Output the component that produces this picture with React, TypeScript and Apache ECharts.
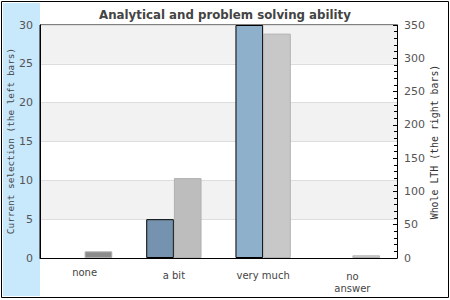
import React, { useEffect, useRef } from "react";
import * as echarts from "echarts";

const categories = ["none", "a bit", "very much", "no\nanswer"];
const labelOffsets = [0, 3, 3, 4];
const currentSelection = [0, 5, 30, 0];
const wholeLTH = [10, 120, 337, 4];
const leftColors = ["#8fb0cb", "#7593ae", "#8fb0cb", "#8fb0cb"];
const rightColors = ["#8c8c8c", "#bdbdbd", "#c8c8c8", "#d0d0d0"];
const leftTicks = { min: 0, max: 30, interval: 5 };
const rightTicks = { min: 0, max: 350, interval: 50 };
const leftName = "Current selection (the left bars)";
const rightName = "Whole LTH (the right bars)";

export default function App() {
  const ref = useRef<HTMLDivElement>(null);
  useEffect(() => {
    if (!ref.current) return;
    const chart = echarts.init(ref.current, undefined, { renderer: "svg" });
    chart.setOption({
      animation: false,
      backgroundColor: "#fff",
      title: {
        text: "Analytical and problem solving ability",
        left: "center",
        top: 4,
        textStyle: { fontFamily: "DejaVu Sans", fontSize: 11.8, fontWeight: "bold", color: "#444" },
      },
      graphic: [
        { type: "rect", z: -10, shape: { x: 3, y: 3, width: 37, height: 293 }, style: { fill: "#c8e8fc" }, silent: true },
        { type: "rect", z: -10, shape: { x: 1.5, y: 1.5, width: 447, height: 296 }, style: { fill: "none", stroke: "#000", lineWidth: 1 }, silent: true },
        {
          type: "text", x: 10, y: 141, rotation: Math.PI / 2, silent: true,
          style: { text: leftName, fontFamily: "DejaVu Sans Mono", fontSize: 9.4, fill: "#444", align: "center", verticalAlign: "middle" },
        },
        {
          type: "text", x: 434, y: 142, rotation: Math.PI / 2, silent: true,
          style: { text: rightName, fontFamily: "DejaVu Sans Mono", fontSize: 9.9, fill: "#333", align: "center", verticalAlign: "middle" },
        },
      ],
      grid: { left: 40, right: 53, top: 25, bottom: 42, show: true, borderColor: "#000", borderWidth: 1, backgroundColor: "transparent" },
      xAxis: {
        type: "category",
        data: categories.map((c, i) => ({ value: c, textStyle: { padding: [labelOffsets[i], 0, 0, 0] } })),
        axisLine: { lineStyle: { color: "#000", width: 1 } },
        axisTick: { show: false },
        axisLabel: { fontFamily: "DejaVu Sans", fontSize: 10, color: "#444", margin: 9, lineHeight: 11.5 },
      },
      yAxis: [
        {
          type: "value",
          ...leftTicks,
          position: "left",
          axisLine: { show: true, lineStyle: { color: "#000" } },
          axisTick: { show: false },
          axisLabel: { fontFamily: "DejaVu Sans", fontSize: 11, color: "#555", margin: 7 },
          splitLine: { show: true, lineStyle: { color: "#dddddd" } },
          splitArea: { show: true, areaStyle: { color: ["#ffffff", "#f2f2f2"] } },
        },
        {
          type: "value",
          ...rightTicks,
          position: "right",
          axisLine: { show: true, lineStyle: { color: "#000" } },
          axisTick: { show: true, inside: true, length: 4, lineStyle: { color: "#000" } },
          minorTick: { show: true, splitNumber: 5, length: 3, lineStyle: { color: "#000" } },
          axisLabel: { fontFamily: "DejaVu Sans", fontSize: 11, color: "#555", margin: 7 },
          splitLine: { show: false },
        },
      ],
      series: [
        {
          type: "bar",
          yAxisIndex: 0,
          barGap: "0%",
          barCategoryGap: "38%",
          data: currentSelection.map((v, i) => ({
            value: v,
            itemStyle: { color: leftColors[i], borderColor: "#000", borderWidth: v > 0 ? 1 : 0 },
          })),
        },
        {
          type: "bar",
          yAxisIndex: 1,
          barGap: "0%",
          barCategoryGap: "38%",
          data: wholeLTH.map((v, i) => ({
            value: v,
            itemStyle: { color: rightColors[i], borderColor: "#b0b0b0", borderWidth: 1 },
          })),
        },
      ],
    });
    return () => chart.dispose();
  }, []);
  return <div ref={ref} style={{ width: 450, height: 300, position: "absolute", left: 0, top: 0 }} />;
}
